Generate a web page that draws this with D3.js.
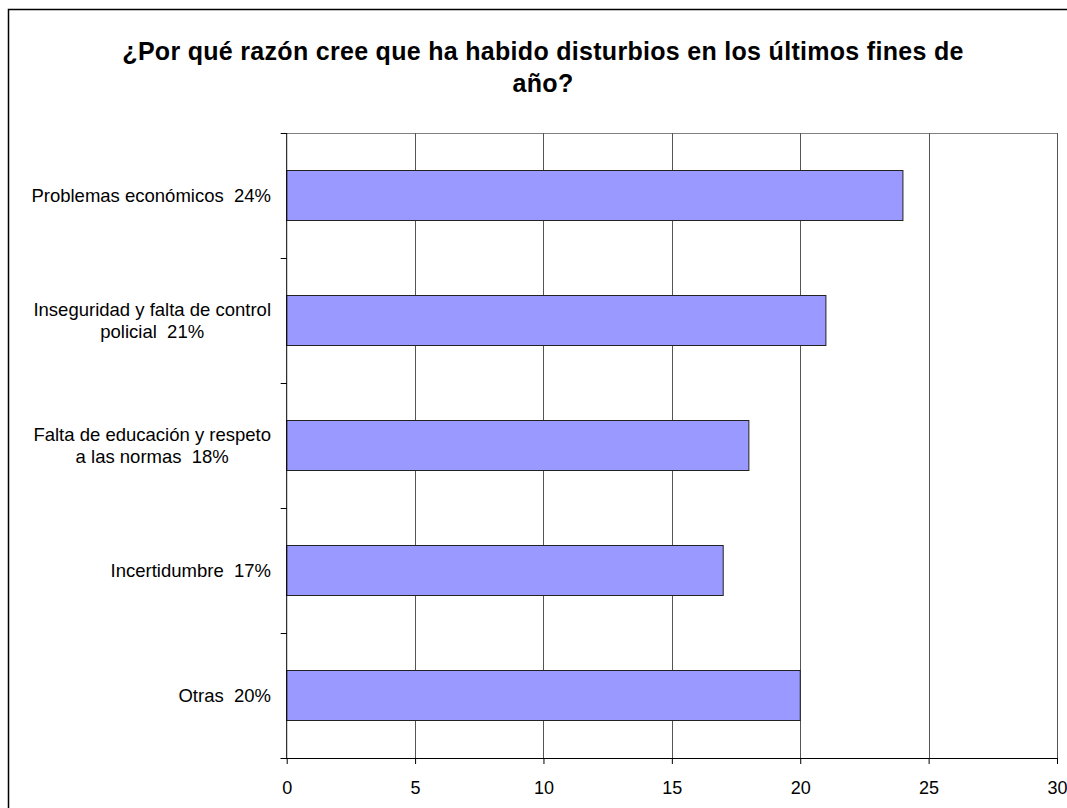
<!DOCTYPE html>
<html>
<head>
<meta charset="utf-8">
<script src="https://cdn.jsdelivr.net/npm/d3@7"></script>
<style>
  html, body { margin: 0; padding: 0; background: #fff; }
  svg { display: block; }
  text { font-family: Arial, "Liberation Sans", sans-serif; white-space: pre; }
</style>
</head>
<body>
<svg id="chart" width="1067" height="808"></svg>
<script>
const titleLines = ["¿Por qué razón cree que ha habido disturbios en los últimos fines de", "año?"];
const categories = [
  ["Problemas económicos  24%"],
  ["Inseguridad y falta de control", "policial  21%"],
  ["Falta de educación y respeto", "a las normas  18%"],
  ["Incertidumbre  17%"],
  ["Otras  20%"]
];
const values = [24, 21, 18, 17, 20];
const xTicks = [0, 5, 10, 15, 20, 25, 30];

const svg = d3.select("#chart");
const plot = { left: 286.7, right: 1057, top: 133, bottom: 758 };

// outer frame
svg.append("rect").attr("x", 8.5).attr("y", 9.5).attr("width", 1060).attr("height", 820)
  .attr("fill", "#fff").attr("stroke", "#000").attr("stroke-width", 1.5);

const x = d3.scaleLinear().domain([0, 30]).range([plot.left, plot.right]);
const ids = categories.map((d, i) => i);
const y = d3.scaleBand().domain(ids).range([plot.top, plot.bottom]).paddingInner(0.6).paddingOuter(0.3);

// plot border top
svg.append("line").attr("x1", plot.left).attr("x2", plot.right).attr("y1", plot.top + 0.5).attr("y2", plot.top + 0.5)
  .attr("stroke", "#808080").attr("stroke-width", 1);

// gridlines
svg.append("g").selectAll("line").data(xTicks.filter(d => d > 0)).join("line")
  .attr("x1", d => Math.round(x(d)) + 0.5).attr("x2", d => Math.round(x(d)) + 0.5)
  .attr("y1", plot.top).attr("y2", plot.bottom)
  .attr("stroke", "#555").attr("stroke-width", 1);

// bars
svg.append("g").selectAll("rect").data(values).join("rect")
  .attr("x", x(0)).attr("y", (d, i) => y(i))
  .attr("width", d => x(d) - x(0)).attr("height", y.bandwidth())
  .attr("fill", "#9999FF").attr("stroke", "#222").attr("stroke-width", 1);

// x axis
const xAxis = d3.axisBottom(x).tickValues(xTicks).tickSize(6).tickPadding(8);
const gx = svg.append("g").attr("transform", `translate(0,${plot.bottom})`).call(xAxis);
gx.select(".domain").attr("d", `M${plot.left - 6},0.5H${plot.right}`).attr("stroke", "#000");
gx.selectAll(".tick line").attr("stroke", "#000");
gx.selectAll(".tick text").attr("font-size", 18).attr("font-family", "Arial, 'Liberation Sans', sans-serif").attr("fill", "#000").attr("y", 30).attr("dy", "0.32em");

// y axis line and category boundary ticks
const yAxis = svg.append("g");
yAxis.append("line").attr("x1", plot.left).attr("x2", plot.left).attr("y1", plot.top).attr("y2", plot.bottom)
  .attr("stroke", "#000").attr("stroke-width", 1);
const bounds = d3.range(categories.length + 1).map(i => plot.top + i * (plot.bottom - plot.top) / categories.length);
yAxis.selectAll("line.tk").data(bounds).join("line").attr("class", "tk")
  .attr("x1", plot.left - 6).attr("x2", plot.left).attr("y1", d => Math.round(d) + 0.5).attr("y2", d => Math.round(d) + 0.5)
  .attr("stroke", "#000");

// category labels
const lineH = 21.7;
const labelG = svg.append("g");
categories.forEach((lines, i) => {
  const cy = y(i) + y.bandwidth() / 2;
  const n = lines.length;
  const t = labelG.append("text").attr("font-size", 18.5).attr("fill", "#000").attr("text-anchor", "middle");
  lines.forEach((ln, j) => {
    t.append("tspan").attr("y", cy + (j - (n - 1) / 2) * lineH).attr("dy", "0.36em").text(ln);
  });
  let maxW = 0;
  t.selectAll("tspan").each(function() { maxW = Math.max(maxW, this.getComputedTextLength()); });
  t.selectAll("tspan").attr("x", 271 - maxW / 2);
});

// title
const tt = svg.append("text").attr("text-anchor", "middle").attr("font-size", 25).attr("font-weight", "bold")
  .attr("letter-spacing", 0.3).attr("fill", "#000");
titleLines.forEach((ln, j) => {
  tt.append("tspan").attr("x", 543).attr("y", 60 + j * 32.4).text(ln);
});
</script>
</body>
</html>
